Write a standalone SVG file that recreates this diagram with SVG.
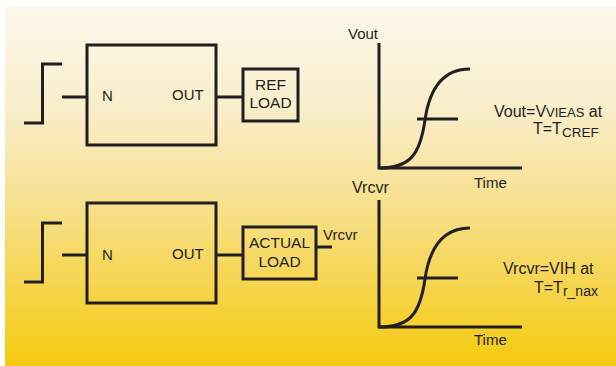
<svg xmlns="http://www.w3.org/2000/svg" width="616" height="366" viewBox="0 0 616 366">
<defs>
<linearGradient id="bg" x1="0" y1="0" x2="0" y2="1">
<stop offset="0" stop-color="#fcf8ee"/>
<stop offset="0.3" stop-color="#f9edc8"/>
<stop offset="0.55" stop-color="#f7e08e"/>
<stop offset="1" stop-color="#f4ca0e"/>
</linearGradient>
</defs>
<style>
.ln{fill:none;stroke:#231f20;stroke-width:3;stroke-linecap:butt;stroke-linejoin:miter}
.bx{fill:none;stroke:#231f20;stroke-width:3}
.t{font-family:"Liberation Sans",Arial,sans-serif;font-size:15px;fill:#231f20}
.b{font-family:"Liberation Sans",Arial,sans-serif;font-size:15.5px;fill:#231f20}
.s{font-family:"Liberation Sans",Arial,sans-serif;font-size:15px;fill:#231f20}
.a{font-family:"Liberation Sans",Arial,sans-serif;font-size:16px;fill:#231f20}
</style>
<rect x="0" y="0" width="616" height="366" fill="#ffffff"/>
<rect x="5" y="6" width="611" height="360" fill="url(#bg)"/>

<g id="step-top"><path class="ln" d="M24,123 H42.5 V64 H62"/></g>
<g id="driver-top">
<rect class="bx" x="87" y="45" width="129" height="100"/>
<text class="t" x="102" y="101">N</text>
<text class="t" x="172" y="100">OUT</text>
</g>
<g id="refload">
<rect class="bx" x="243" y="69" width="55" height="52"/>
<text class="b" x="270.5" y="90" text-anchor="middle">REF</text>
<text class="b" x="270.5" y="108" text-anchor="middle">LOAD</text>
</g>

<g id="step-bot"><path class="ln" d="M24,282 H42.5 V223 H62"/></g>
<g id="driver-bot">
<rect class="bx" x="87" y="203" width="129" height="100"/>
<text class="t" x="102" y="260">N</text>
<text class="t" x="172" y="259">OUT</text>
</g>
<g id="actualload">
<rect class="bx" x="243" y="227" width="73" height="52"/>
<text class="b" x="279.5" y="248" text-anchor="middle">ACTUAL</text>
<text class="b" x="279.5" y="267" text-anchor="middle">LOAD</text>
</g>
<text class="s" x="323" y="240">Vrcvr</text>

<g id="connectors">
<path class="ln" d="M62,97 H87"/>
<path class="ln" d="M216,97 H243"/>
<path class="ln" d="M62,255 H87"/>
<path class="ln" d="M216,255 H243"/>
<path class="ln" d="M316,247 H332"/>
</g>

<g id="chart-top">
<path class="ln" d="M379,43 V168 H522"/>
<path class="ln" d="M379,168 C410,168 420,155 425,120 C430,85 445,69 470,69"/>
<path class="ln" d="M417,119 H458"/>
<text class="s" x="348" y="39">Vout</text>
<text class="s" x="474" y="188">Time</text>
<text class="a" x="494" y="117">Vout=V<tspan font-size="13">VIEAS</tspan> at</text>
<text class="a" x="533" y="134">T=T<tspan font-size="13.5" dy="3">CREF</tspan></text>
</g>

<g id="chart-bot">
<path class="ln" d="M379,200 V327 H522"/>
<path class="ln" d="M379,327 C410,327 420,314 425,279 C430,244 445,228 470,228"/>
<path class="ln" d="M417,278 H458"/>
<text class="a" x="352" y="193">Vrcvr</text>
<text class="s" x="474" y="345">Time</text>
<text class="a" x="503" y="274">Vrcvr=VIH at</text>
<text class="a" x="534" y="293">T=T<tspan font-size="14" dy="3">r_nax</tspan></text>
</g>
</svg>
